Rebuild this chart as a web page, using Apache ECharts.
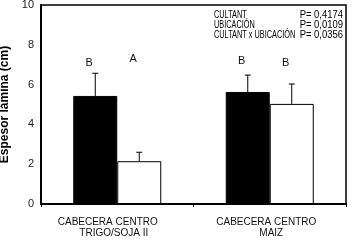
<!DOCTYPE html>
<html><head><meta charset="utf-8">
<script src="https://cdn.jsdelivr.net/npm/echarts@6/dist/echarts.min.js"></script>
<style>html,body{margin:0;padding:0;background:#fff}#c{width:354px;height:242px}</style>
</head><body><div id="c"></div>
<script>
const categories = ['CABECERA CENTRO\nTRIGO/SOJA II', 'CABECERA CENTRO\nMAIZ'];
const blackValues = [5.43, 5.63];
const blackErrors = [1.14, 0.85];
const whiteValues = [2.15, 5.03];
const whiteErrors = [0.45, 1.00];
const blackLetters = ['B', 'B'];
const whiteLetters = ['A', 'B'];
const blackLetterY = [7.1, 7.19];
const whiteLetterY = [7.27, 7.07];
const yTicks = [0, 2, 4, 6, 8, 10];
const statsLabels = ['CULTANT', 'UBICACIÓN', 'CULTANT x UBICACIÓN'];
const statsValues = ['P= 0,4174', 'P= 0,0109', 'P= 0,0356'];

const BAR_W = 44;
const FONT = '"Liberation Sans", Arial, sans-serif';

function errSeries(values, errors, letters, letterY, side) {
  return {
    type: 'custom',
    z: 5,
    data: values.map((v, i) => [i, v, errors[i], letterY[i]]),
    renderItem: function (params, api) {
      const i = api.value(0);
      const v = api.value(1);
      const e = api.value(2);
      const base = api.coord([i, v]);
      const top = api.coord([i, v + e]);
      const x = base[0] + side * BAR_W / 2;
      const ly = api.coord([i, api.value(3)])[1];
      const cap = 3;
      return {
        type: 'group',
        children: [
          { type: 'line', shape: { x1: x, y1: base[1], x2: x, y2: top[1] }, style: { stroke: '#000', lineWidth: 1 } },
          { type: 'line', shape: { x1: x - cap, y1: top[1], x2: x + cap, y2: top[1] }, style: { stroke: '#000', lineWidth: 1 } },
          { type: 'text', x: x - 6, y: ly, style: { text: letters[params.dataIndex], fill: '#111', font: '11px ' + FONT, align: 'center', verticalAlign: 'middle' } }
        ]
      };
    }
  };
}

const chart = echarts.init(document.getElementById('c'), null, { renderer: 'canvas' });
const graphics = [];
statsLabels.forEach((t, k) => {
  graphics.push({ type: 'text', x: 214, y: 15.5 + k * 10, scaleX: 0.7, style: { text: t, fill: '#000', font: '10.5px ' + FONT, verticalAlign: 'middle' } });
  graphics.push({ type: 'text', x: 343, y: 15.5 + k * 10, scaleX: 0.9, style: { text: statsValues[k], fill: '#000', font: '10.5px ' + FONT, align: 'right', verticalAlign: 'middle' } });
});

const labelRich = {
  a0: { padding: [0, 19, 0, 0], fontSize: 10, lineHeight: 11, color: '#111', fontFamily: FONT },
  b0: { padding: [0, 7, 0, 0], fontSize: 10, lineHeight: 11, color: '#111', fontFamily: FONT },
  a1: { padding: [0, 7, 0, 0], fontSize: 10, lineHeight: 11, color: '#111', fontFamily: FONT },
  b1: { padding: [0, 0, 0, 3], fontSize: 10, lineHeight: 11, color: '#111', fontFamily: FONT }
};

chart.setOption({
  animation: false,
  grid: { left: 41, right: 8, top: 5, bottom: 38, outerBoundsMode: 'none', containLabel: false, show: true, borderColor: '#000', borderWidth: 1.5 },
  xAxis: {
    type: 'category',
    data: categories,
    axisLine: { lineStyle: { color: '#000', width: 2 } },
    axisTick: { show: true, length: 3, interval: 0, lineStyle: { color: '#000', width: 1 } },
    axisLabel: {
      interval: 0, hideOverlap: false,
      color: '#111', fontFamily: FONT, fontSize: 10, lineHeight: 11, margin: 13,
      formatter: function (val, idx) {
        const parts = val.split('\n');
        return '{a' + idx + '|' + parts[0] + '}\n{b' + idx + '|' + parts[1] + '}';
      },
      rich: labelRich
    },
    splitLine: { show: false }
  },
  yAxis: {
    type: 'value',
    min: 0, max: 10, interval: 2,
    name: 'Espesor lámina (cm)',
    nameLocation: 'middle',
    nameGap: 23,
    nameTextStyle: { color: '#000', fontFamily: FONT, fontSize: 12, fontWeight: 'bold' },
    axisLine: { show: true, lineStyle: { color: '#000', width: 2 } },
    axisTick: { show: false },
    axisLabel: { color: '#222', fontFamily: FONT, fontSize: 11, margin: 7, formatter: v => yTicks.includes(v) ? String(v) : '' },
    splitLine: { show: false }
  },
  series: [
    { type: 'bar', data: blackValues, barWidth: BAR_W, barGap: '0%', itemStyle: { color: '#000', borderColor: '#000', borderWidth: 1 } },
    { type: 'bar', data: whiteValues, barWidth: BAR_W, barGap: '0%', itemStyle: { color: '#fff', borderColor: '#000', borderWidth: 1 } },
    errSeries(blackValues, blackErrors, blackLetters, blackLetterY, -1),
    errSeries(whiteValues, whiteErrors, whiteLetters, whiteLetterY, 1)
  ],
  graphic: graphics
});
</script></body></html>
